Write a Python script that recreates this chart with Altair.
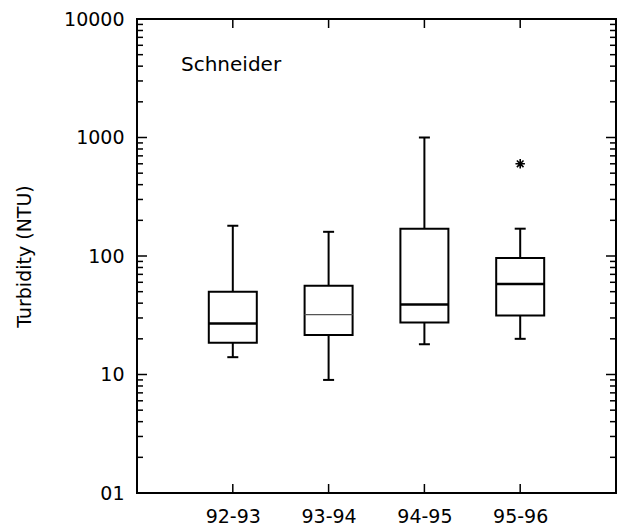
import altair as alt
import pandas as pd

# ---- data ----
categories = ["92-93", "93-94", "94-95", "95-96"]
whisker_low = [14, 9, 18, 20]
q1 = [18.5, 21.5, 27.5, 31.5]
median = [27, 32, 39, 58]
q3 = [50, 56, 170, 96]
whisker_high = [180, 160, 1000, 170]
outlier_cat = ["95-96"]
outlier_val = [600]

y_ticks = [1, 10, 100, 1000, 10000]
y_tick_labels = ["01", "10", "100", "1000", "10000"]
y_minor = [m * 10 ** k for k in range(4) for m in range(2, 10)]
panel_label = "Schneider"
y_title = "Turbidity (NTU)"

W, H = 479, 474
FONT = "DejaVu Sans"

boxes = pd.DataFrame({
    "cat": categories, "lo": whisker_low, "q1": q1, "med": median,
    "q3": q3, "hi": whisker_high,
})
outliers = pd.DataFrame({"cat": outlier_cat, "v": outlier_val})
major = pd.DataFrame({"v": y_ticks})
minor = pd.DataFrame({"v": y_minor})
cats = pd.DataFrame({"cat": categories})
label_df = pd.DataFrame({"label": [panel_label]})

ysc = alt.Scale(type="log", domain=[1, 10000], nice=False)
xsc = alt.Scale(type="point", domain=categories, padding=1)

label_expr = " : ".join(
    f"datum.value == {v} ? '{l}'" for v, l in zip(y_ticks, y_tick_labels)
) + " : ''"

x_axis = alt.Axis(title=None, ticks=False, domain=False, grid=False, labelAngle=0,
                  labelFont=FONT, labelFontSize=19, labelColor="black", labelPadding=14)
y_axis = alt.Axis(values=y_ticks, labelExpr=label_expr, ticks=False, domain=False,
                  grid=False, labelFont=FONT, labelFontSize=19, labelColor="black",
                  labelPadding=13, title=y_title, titleFont=FONT, titleFontSize=19,
                  titleFontWeight="normal", titleColor="black", titleAngle=270,
                  titleX=-113, titleY=H / 2, titleAlign="center", titleBaseline="middle")


def X():
    return alt.X("cat:N", scale=xsc, axis=x_axis)


def Y(field):
    return alt.Y(field, scale=ysc, axis=y_axis)


box = alt.Chart(boxes).mark_bar(size=48, fill="white", stroke="black", strokeWidth=2).encode(
    x=X(), y=Y("q1:Q"), y2="q3:Q")
wl = alt.Chart(boxes).mark_rule(color="black", strokeWidth=2).encode(
    x=X(), y=Y("lo:Q"), y2="q1:Q")
wh = alt.Chart(boxes).mark_rule(color="black", strokeWidth=2).encode(
    x=X(), y=Y("q3:Q"), y2="hi:Q")
cap_lo = alt.Chart(boxes).mark_tick(color="black", size=11, thickness=2, opacity=1).encode(
    x=X(), y=Y("lo:Q"))
cap_hi = alt.Chart(boxes).mark_tick(color="black", size=11, thickness=2, opacity=1).encode(
    x=X(), y=Y("hi:Q"))
med_thick = alt.Chart(boxes).transform_filter(alt.datum.cat != "93-94").mark_tick(
    color="black", size=48, thickness=2.5, opacity=1).encode(x=X(), y=Y("med:Q"))
med_thin = alt.Chart(boxes).transform_filter(alt.datum.cat == "93-94").mark_tick(
    color="#555555", size=48, thickness=1.2, opacity=1).encode(x=X(), y=Y("med:Q"))
star = alt.Chart(outliers).mark_point(
    shape="M-1,0L1,0M0,-1L0,1M-0.7,-0.7L0.7,0.7M-0.7,0.7L0.7,-0.7",
    size=90, filled=False, stroke="black", strokeWidth=1.6, opacity=1).encode(
    x=X(), y=Y("v:Q"))


def yticks(df, x0, x1):
    return alt.Chart(df).mark_rule(color="black", strokeWidth=1.5).encode(
        y=Y("v:Q"), x=alt.value(x0), x2=alt.value(x1))


def xticks(y0, y1):
    return alt.Chart(cats).mark_rule(color="black", strokeWidth=1.5).encode(
        x=X(), y=alt.value(y0), y2=alt.value(y1))


tick_layers = [
    yticks(major, 0, 10), yticks(minor, 0, 6),
    yticks(major, W - 10, W), yticks(minor, W - 6, W),
    xticks(H - 9, H), xticks(0, 9),
]

txt = alt.Chart(label_df).mark_text(
    align="left", baseline="alphabetic", font=FONT, fontSize=20, color="black").encode(
    x=alt.value(44), y=alt.value(52), text="label:N")

chart = alt.layer(box, wl, wh, cap_lo, cap_hi, med_thick, med_thin, star,
                  *tick_layers, txt).properties(
    width=W, height=H,
    autosize=alt.AutoSizeParams(type="none"),
    padding={"left": 137, "top": 19, "right": 7, "bottom": 39},
    background="white",
).configure_view(stroke="black", strokeWidth=2)

chart.save("out.html", embed_options={"renderer": "svg", "actions": False})
